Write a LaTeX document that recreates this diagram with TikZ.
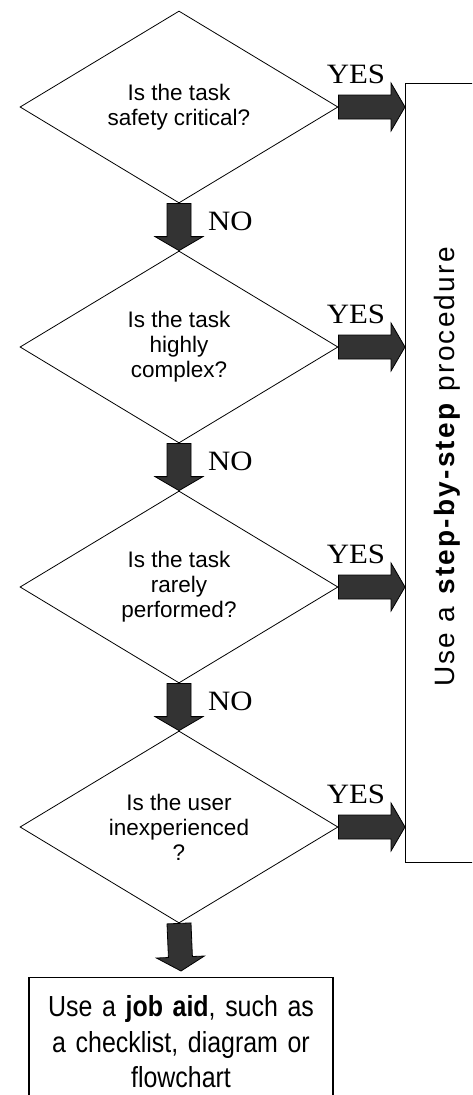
\documentclass[tikz,border=0pt]{standalone}
\usepackage{fontspec}
\setmainfont{Liberation Sans}
\newfontfamily\labelfont[FakeStretch=1.1]{Liberation Serif}
\newfontfamily\aidfont[FakeStretch=0.86]{Liberation Sans}
\newfontfamily\procfont[LetterSpace=8]{Liberation Sans}
\usetikzlibrary{shapes.geometric,calc}
\definecolor{arrowgray}{HTML}{333333}

\begin{document}
\begin{tikzpicture}[x=1pt,y=-1pt,
			mydiamond/.style={draw, diamond, aspect=1.66, minimum width=318pt, minimum height=192pt, inner sep=0pt, line width=0.8pt, align=center, font=\fontsize{22.5}{25}\selectfont},
			mylabel/.style={anchor=base, inner sep=0pt, font=\labelfont\fontsize{28}{30}\selectfont},
			fatarrow/.style={draw=black, fill=arrowgray, line width=0.8pt, line join=miter, to path={let \p1=(\tikztostart), \p2=(\tikztotarget), \p3=($(\p2)!14pt!(\p1)$) in ($(\p1)!12pt!90:(\p2)$) -- ($(\p3)!12pt!90:(\p2)$) -- ($(\p3)!24pt!90:(\p2)$) -- (\p2) -- ($(\p3)!24pt!-90:(\p2)$) -- ($(\p3)!12pt!-90:(\p2)$) -- ($(\p1)!12pt!-90:(\p2)$) -- cycle}}
		]

		\clip (0,0) rectangle (472,1095);

		\node[mydiamond] (safety) at (179,107) {Is the task\\safety critical?};
		\node[mydiamond] (complex) at (179,347) {Is the task\\highly\\complex?};
		\node[mydiamond] (rare) at (179,587) {Is the task\\rarely\\performed?};
		\node[mydiamond] (user) at (179,827) {Is the user\\inexperienced\\?};

		\node[draw, line width=1.2pt, minimum width=120pt, minimum height=779pt, anchor=north west] (proc) at (405,83) {};
		\node[rotate=90, anchor=base, inner sep=0pt, font=\procfont\fontsize{28}{30}\selectfont] (proctext) at (454,467) {Use a \textbf{step-by-step} procedure};

		\node[draw, line width=1.2pt, text width=290pt, inner xsep=7pt, inner ysep=18pt, align=center, anchor=north, font=\aidfont\fontsize{29}{35.5}\selectfont] (aid) at (181,977) {Use a \textbf{job aid}, such as\\a checklist, diagram or\\flowchart};

		\draw[fatarrow] (safety.south) to (complex.north);
		\draw[fatarrow] (complex.south) to (rare.north);
		\draw[fatarrow] (rare.south) to (user.north);
		\draw[fatarrow] (user.south) to ([yshift=6pt]aid.north);

		\draw[fatarrow] (safety.east) to (safety.east -| proc.west);
		\draw[fatarrow] (complex.east) to (complex.east -| proc.west);
		\draw[fatarrow] (rare.east) to (rare.east -| proc.west);
		\draw[fatarrow] (user.east) to (user.east -| proc.west);

		\node[mylabel] (yes1) at (356,83) {YES};
		\node[mylabel] (yes2) at (356,323) {YES};
		\node[mylabel] (yes3) at (356,563) {YES};
		\node[mylabel] (yes4) at (356,803) {YES};

		\node[mylabel, anchor=base west] (no1) at (208,230) {NO};
		\node[mylabel, anchor=base west] (no2) at (208,470) {NO};
		\node[mylabel, anchor=base west] (no3) at (208,710) {NO};

	\end{tikzpicture}
\end{document}
